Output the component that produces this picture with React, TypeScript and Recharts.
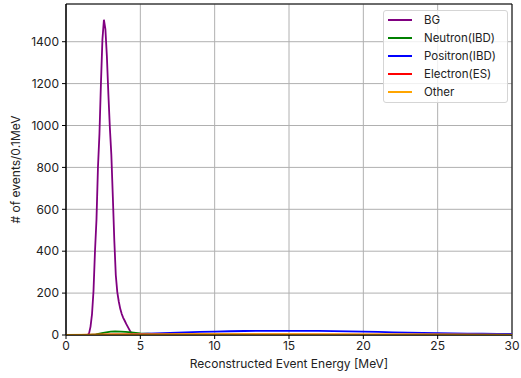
import React from "react";
import {
  LineChart,
  Line,
  XAxis,
  YAxis,
  CartesianGrid,
  Legend,
  ReferenceArea,
} from "recharts";

// ---- data ----
const energyTicks = [0, 5, 10, 15, 20, 25, 30];
const countTicks = [0, 200, 400, 600, 800, 1000, 1200, 1400];

const bgEnergy = [0, 1.45, 1.55, 1.65, 1.75, 1.85, 1.95, 2.05, 2.15, 2.25, 2.35, 2.45, 2.55, 2.65, 2.75, 2.85, 2.95, 3.05, 3.15, 3.25, 3.35, 3.45, 3.55, 3.65, 3.75, 3.85, 3.95, 4.05, 4.15, 4.25, 4.35, 4.45, 4.55, 30];
const bgCounts = [0, 0, 8, 40, 100, 210, 400, 550, 800, 960, 1200, 1410, 1505, 1460, 1330, 1150, 990, 860, 660, 450, 285, 205, 160, 125, 100, 82, 68, 53, 40, 27, 14, 4, 0, 0];

const neutronEnergy = [0, 1.5, 2.0, 2.5, 3.0, 3.3, 3.7, 4.0, 4.4, 5.0, 5.5, 6, 7, 8, 10, 15, 20, 30];
const neutronCounts = [0, 0, 3, 10, 16, 17, 16, 14.5, 12.5, 8, 6, 4.5, 3, 2, 1.5, 1, 0.7, 0.3];

const positronEnergy = [0, 3, 4, 5, 6, 7, 8, 9, 10, 11, 12, 13, 14, 15, 16, 17, 18, 19, 20, 21, 22, 23, 24, 25, 26, 27, 28, 29, 30];
const positronCounts = [0, 0, 2, 5, 8, 10.5, 13, 15, 16.5, 18, 19, 19.5, 20, 20, 20, 19.5, 18.5, 17.5, 16, 14.5, 13, 11.5, 10, 9, 8, 7, 6, 5.5, 5];

const electronEnergy = [0, 1, 3, 5, 10, 15, 20, 25, 30];
const electronCounts = [0, 1, 2.5, 3, 3, 2.5, 2, 1.5, 1];

const otherEnergy = [0, 2, 4, 10, 15, 20, 25, 30];
const otherCounts = [0.5, 2, 3, 3.5, 3.5, 3, 2.5, 2];

const seriesNames = ["BG", "Neutron(IBD)", "Positron(IBD)", "Electron(ES)", "Other"];
const seriesColors = ["#800080", "#008000", "#0000ff", "#ff0000", "#ffa500"];

const toPoints = (xs: number[], ys: number[]) => xs.map((x, i) => ({ x, y: ys[i] }));

const series = [
  toPoints(bgEnergy, bgCounts),
  toPoints(neutronEnergy, neutronCounts),
  toPoints(positronEnergy, positronCounts),
  toPoints(electronEnergy, electronCounts),
  toPoints(otherEnergy, otherCounts),
];

const FONT = "Inter, 'Noto Sans', sans-serif";
const FS = 12;
const W = 521;
const H = 378;

const LegendBox = () => (
  <div
    style={{
      width: 123,
      height: 91,
      border: "1px solid #d5d5d5",
      borderRadius: 3,
      background: "rgba(255,255,255,0.8)",
      fontFamily: FONT,
      fontSize: 11.5,
      color: "#222",
      boxSizing: "content-box",
      paddingTop: 0,
    }}
  >
    {seriesNames.map((name, i) => (
      <div key={name} style={{ height: 18, display: "flex", alignItems: "center" }}>
        <div style={{ width: 24, height: 0, borderTop: `2px solid ${seriesColors[i]}`, marginLeft: 4, marginRight: 12 }} />
        <span>{name}</span>
      </div>
    ))}
  </div>
);

export default function App() {
  return (
    <div style={{ position: "absolute", left: 0, top: 0, width: W, height: H, background: "#fff" }}>
      <LineChart width={W} height={H} margin={{ top: 4, right: 9, left: 0, bottom: 0 }}>
        <CartesianGrid stroke="#b0b0b0" strokeWidth={1} />
        <XAxis
          type="number"
          dataKey="x"
          domain={[0, 30]}
          ticks={energyTicks}
          allowDataOverflow
          height={43}
          tickSize={4}
          tickMargin={2}
          stroke="#000"
          tick={{ fill: "#222", fontSize: FS, fontFamily: FONT }}
          label={{ value: "Reconstructed Event Energy [MeV]", position: "insideBottom", offset: 10, fill: "#222", fontSize: FS, fontFamily: FONT }}
        />
        <YAxis
          type="number"
          domain={[0, 1580]}
          ticks={countTicks}
          allowDataOverflow
          width={66}
          tickSize={4}
          tickMargin={3}
          stroke="#000"
          tick={{ fill: "#222", fontSize: FS, fontFamily: FONT }}
          label={{ value: "# of events/0.1MeV", angle: -90, position: "insideLeft", offset: 16, style: { textAnchor: "middle" }, fill: "#222", fontSize: FS, fontFamily: FONT }}
        />
        {series.map((d, i) => (
          <Line
            key={seriesNames[i]}
            data={d}
            dataKey="y"
            name={seriesNames[i]}
            type="linear"
            stroke={seriesColors[i]}
            strokeWidth={1.8}
            dot={false}
            activeDot={false}
            isAnimationActive={false}
          />
        ))}
        <ReferenceArea x1={0} x2={30} y1={0} y2={1580} fill="none" stroke="#000" strokeWidth={1} />
        <Legend
          layout="vertical"
          verticalAlign="middle"
          align="center"
          content={<LegendBox />}
          wrapperStyle={{ position: "absolute", left: 383, top: 10, width: 125, height: 93 }}
        />
      </LineChart>
    </div>
  );
}
